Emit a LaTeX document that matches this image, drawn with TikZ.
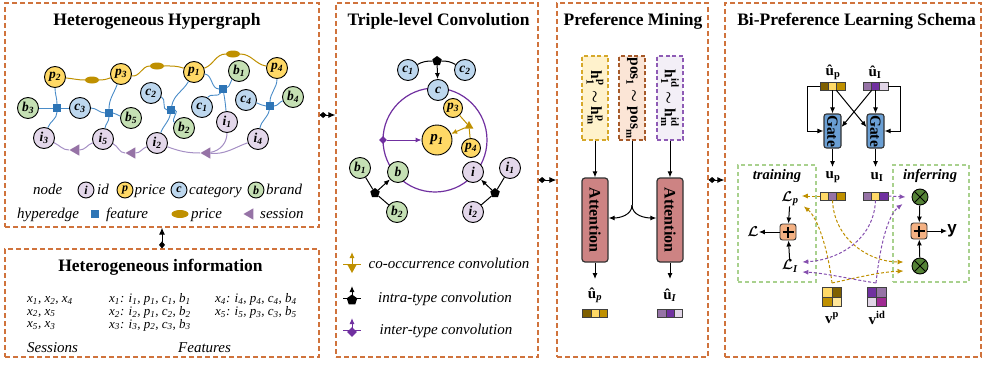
\documentclass[tikz,border=0pt]{standalone}
\usepackage{amsmath,bm}
\usepackage{fontspec}
\setmainfont{Liberation Serif}
\newfontfamily\sansfam{Liberation Sans}
\usepackage{graphicx}
\usetikzlibrary{shapes.geometric,arrows.meta,calc}

\definecolor{panelc}{HTML}{D0733C}
\definecolor{idc}{HTML}{E3D7EA}
\definecolor{prc}{HTML}{FFD966}
\definecolor{ctc}{HTML}{BDD7EE}
\definecolor{brc}{HTML}{C5E0B4}
\definecolor{featc}{HTML}{2E75B6}
\definecolor{featl}{HTML}{4A8CC8}
\definecolor{pricec}{HTML}{BF9000}
\definecolor{sessc}{HTML}{9673A6}
\definecolor{sessl}{HTML}{A58FC4}
\definecolor{purc}{HTML}{7030A0}
\definecolor{goldc}{HTML}{BF9000}
\definecolor{vdark}{HTML}{7F6000}
\definecolor{vyel}{HTML}{FFD966}
\definecolor{vlyel}{HTML}{FFE699}
\definecolor{vpm}{HTML}{9673A6}
\definecolor{vlav}{HTML}{E1D5E7}
\definecolor{vmag}{HTML}{A02B93}
\definecolor{hpfill}{HTML}{FFF2CC}
\definecolor{hpdraw}{HTML}{D6A82A}
\definecolor{posfill}{HTML}{FBE5D6}
\definecolor{posdraw}{HTML}{A65A2A}
\definecolor{hidfill}{HTML}{F3EFF7}
\definecolor{hiddraw}{HTML}{8E5BB5}
\definecolor{attc}{HTML}{CD8383}
\definecolor{gatec}{HTML}{6A9FD4}
\definecolor{plusc}{HTML}{F4B183}
\definecolor{otc}{HTML}{548235}
\definecolor{grnbox}{HTML}{A9D18E}

\newcommand{\vs}[2]{#1\textsubscript{#2}}
\newcommand{\lines}[1]{\begin{tabular}[t]{@{}l@{}}#1\end{tabular}}

\tikzset{
  panel/.style={rectangle, draw=panelc, line width=1.2pt, dash pattern=on 5pt off 3pt, inner sep=0pt},
  ttl/.style={font=\fontsize{17.5}{20}\selectfont\bfseries, inner sep=0pt, anchor=base},
  hn/.style={circle, draw=black, line width=0.9pt, minimum size=21pt, inner sep=0pt,
             font=\fontsize{13.5}{14}\selectfont\bfseries\itshape},
  idn/.style={hn, fill=idc}, prn/.style={hn, fill=prc},
  ctn/.style={hn, fill=ctc}, brn/.style={hn, fill=brc},
  lgn/.style={minimum size=16pt, font=\fontsize{12}{12}\selectfont\bfseries\itshape},
  fsq/.style={rectangle, fill=featc, minimum size=7.5pt, inner sep=0pt},
  pel/.style={ellipse, fill=pricec, minimum width=14pt, minimum height=7pt, inner sep=0pt},
  stri/.style={regular polygon, regular polygon sides=3, shape border rotate=90, fill=sessc,
               minimum size=13pt, inner sep=0pt},
  fline/.style={draw=featl, line width=0.9pt},
  pline/.style={draw=pricec, line width=1pt},
  sline/.style={draw=sessl, line width=1pt},
  lgt/.style={font=\fontsize{15}{16}\selectfont\itshape, inner sep=0pt, anchor=base west},
  itx/.style={font=\fontsize{13}{12.5}\selectfont\itshape, inner sep=0pt, anchor=base west},
  pconn/.style={line width=1pt, {Diamond[length=7pt,width=6pt]}-{Latex[length=7pt,width=6pt]}},
  arr/.style={line width=1pt, -{Latex[length=6pt,width=5pt]}},
  bl/.style={line width=1pt},
  hexj/.style={regular polygon, regular polygon sides=5, fill=black, minimum size=10pt, inner sep=0pt},
  purj/.style={diamond, fill=purc, minimum size=8pt, inner sep=0pt},
  goldj/.style={regular polygon, regular polygon sides=3, fill=goldc, minimum size=10pt, inner sep=0pt},
  hbox/.style={rectangle, line width=1.1pt, dash pattern=on 4pt off 2.5pt, minimum width=26pt,
               minimum height=84pt, inner sep=0pt, font=\fontsize{15.5}{16}\selectfont\bfseries},
  att/.style={rectangle, rounded corners=3pt, fill=attc, draw=black!80, line width=1.2pt,
              minimum width=26pt, minimum height=84pt, inner sep=0pt, font=\fontsize{16}{16}\selectfont\bfseries},
  gate/.style={rectangle, rounded corners=2.5pt, fill=gatec, draw=black!80, line width=1.1pt,
               minimum width=17pt, minimum height=34pt, inner sep=0pt, font=\fontsize{15.5}{16}\selectfont\bfseries},
  cell/.style={rectangle, draw=black!75, line width=0.6pt, minimum width=8.33pt, minimum height=8pt, inner sep=0pt},
  sqc/.style={rectangle, draw=black!75, line width=0.6pt, minimum size=9.5pt, inner sep=0pt},
  vl/.style={font=\fontsize{15}{16}\selectfont, inner sep=0pt},
  gbox/.style={rectangle, draw=grnbox, line width=1.1pt, dash pattern=on 4pt off 3pt, inner sep=0pt},
  plusn/.style={rectangle, rounded corners=2.5pt, fill=plusc, draw=black!80, line width=0.9pt,
                minimum size=16pt, inner sep=0pt},
  otn/.style={circle, fill=otc, draw=black, line width=0.9pt, minimum size=16pt, inner sep=0pt},
  gda/.style={draw=goldc, line width=1pt, dash pattern=on 3pt off 2pt, -{Latex[length=6pt,width=5pt]}},
  pda/.style={draw=purc!85, line width=1pt, dash pattern=on 3pt off 2pt, -{Latex[length=6pt,width=5pt]}},
}

\begin{document}
\begin{tikzpicture}[x=1pt,y=1pt]
\useasboundingbox (0,0) rectangle (984,-364);

% ---------- panels ----------
\node[panel, minimum width=314pt, minimum height=224pt] (hg) at (162,-115) {};
\node[panel, minimum width=314pt, minimum height=108pt] (inf) at (162,-303) {};
\node[panel, minimum width=202pt, minimum height=354pt] (tl) at (437,-180) {};
\node[panel, minimum width=151pt, minimum height=354pt] (pm) at (632.5,-180) {};
\node[panel, minimum width=256pt, minimum height=354pt] (bp) at (853,-180) {};

\coordinate (ya) at (0,-115);
\coordinate (yb) at (0,-180);
\draw[pconn] (hg.east |- ya) -- (tl.west |- ya);
\draw[pconn] (tl.east |- yb) -- (pm.west |- yb);
\draw[pconn] (pm.east |- yb) -- (bp.west |- yb);
\draw[pconn] (inf.north) -- (hg.south);

% ---------- heterogeneous hypergraph ----------
\node[ttl] (t1) at (157,-25) {Heterogeneous Hypergraph};

\node[prn] (p2) at (55,-77) {\vs{p}{2}};
\node[prn] (p3) at (121,-74) {\vs{p}{3}};
\node[prn] (p1) at (194,-72) {\vs{p}{1}};
\node[prn] (p4) at (277,-68) {\vs{p}{4}};
\node[brn] (b3) at (28,-108) {\vs{b}{3}};
\node[ctn] (c3) at (80,-108) {\vs{c}{3}};
\node[brn] (b5) at (131,-118) {\vs{b}{5}};
\node[ctn] (c2) at (151,-93) {\vs{c}{2}};
\node[brn] (b2) at (184,-128) {\vs{b}{2}};
\node[ctn] (c1) at (202,-107) {\vs{c}{1}};
\node[brn] (b1) at (239,-71) {\vs{b}{1}};
\node[ctn] (c4) at (246,-100) {\vs{c}{4}};
\node[brn] (b4) at (293,-97) {\vs{b}{4}};
\node[idn] (i3) at (44,-138) {\vs{i}{3}};
\node[idn] (i5) at (103,-139) {\vs{i}{5}};
\node[idn] (i2) at (157,-143) {\vs{i}{2}};
\node[idn] (i1) at (227,-122) {\vs{i}{1}};
\node[idn] (i4) at (258,-139) {\vs{i}{4}};

\node[pel] (e1) at (92,-80) {};
\node[pel] (e2) at (157,-66) {};
\node[pel] (e3) at (233,-54) {};
\node[fsq] (s1) at (57,-108) {};
\node[fsq] (s2) at (109,-113) {};
\node[fsq] (s3) at (171,-110) {};
\node[fsq] (s4) at (223,-89) {};
\node[fsq] (s5) at (270,-106) {};
\node[stri] (tr1) at (76,-150) {};
\node[stri] (tr2) at (132,-153) {};
\node[stri] (tr3) at (207,-153) {};

% price hyperedges
\draw[pline] (p2) to[out=-5,in=180] (e1);
\draw[pline] (e1) to[out=0,in=200] (p3);
\draw[pline] (p3) to[out=-10,in=180] (e2);
\draw[pline] (e2) to[out=0,in=160] (p1);
\draw[pline] (p1) to[out=20,in=180] (e3);
\draw[pline] (e3) to[out=0,in=170] (p4);

% feature hyperedges
\draw[fline] (b3) -- (s1);
\draw[fline] (s1) -- (c3);
\draw[fline] (s1) to[out=90,in=270] (p2);
\draw[fline] (s1) to[out=270,in=70] (i3);
\draw[fline] (c3) to[out=0,in=180] (s2);
\draw[fline] (s2) to[out=0,in=170] (b5);
\draw[fline] (s2) to[out=90,in=250] (p3);
\draw[fline] (s2) to[out=270,in=80] (i5);
\draw[fline] (c2) to[out=-20,in=180] (s3);
\draw[fline] (s3) to[out=0,in=150] (b2);
\draw[fline] (s3) to[out=80,in=240] (p1);
\draw[fline] (s3) to[out=260,in=70] (i2);
\draw[fline] (p1) to[out=-10,in=180] (s4);
\draw[fline] (s4) to[out=20,in=230] (b1);
\draw[fline] (s4) to[out=240,in=60] (c1);
\draw[fline] (s4) to[out=280,in=95] (i1);
\draw[fline] (c4) to[out=-15,in=180] (s5);
\draw[fline] (s5) to[out=0,in=200] (b4);
\draw[fline] (s5) to[out=90,in=270] (p4);
\draw[fline] (s5) to[out=260,in=80] (i4);

% session hyperedges
\draw[sline] (i3) to[out=-25,in=180] (tr1);
\draw[sline] (tr1) to[out=0,in=200] (i5);
\draw[sline] (i5) to[out=-25,in=180] (tr2);
\draw[sline] (tr2) to[out=0,in=200] (i2);
\draw[sline] (i2) to[out=-20,in=180] (tr3);
\draw[sline] (tr3) to[out=10,in=270] (i1);
\draw[sline] (tr3) to[out=-5,in=200] (i4);

% legend
\node[lgt] (lnode) at (33,-194) {node};
\node[idn, lgn] (li) at (86,-190) {i};
\node[lgt] (lid) at (97,-194) {id};
\node[prn, lgn] (lp) at (125,-190) {p};
\node[lgt] (lpr) at (134.5,-194) {price};
\node[ctn, lgn] (lc) at (179,-190) {c};
\node[lgt] (lct) at (189,-194) {category};
\node[brn, lgn] (lb) at (256,-190) {b};
\node[lgt] (lbr) at (266,-194) {brand};
\node[lgt] (lhe) at (17,-218) {hyperedge};
\node[fsq, minimum size=8.5pt] (lsq) at (95,-214) {};
\node[lgt] (lft) at (106,-218) {feature};
\node[pel, minimum width=17pt, minimum height=8pt] (lel) at (180,-214) {};
\node[lgt] (lpe) at (191,-218) {price};
\node[stri] (ltr) at (250,-214) {};
\node[lgt] (lse) at (260,-218) {session};

% ---------- heterogeneous information ----------
\node[ttl] (t2) at (160.5,-271) {Heterogeneous information};
\node[itx] (sess) at (27,-302.5)
  {\lines{\vs{x}{1}, \vs{x}{2}, \vs{x}{4}\\ \vs{x}{2}, \vs{x}{5}\\ \vs{x}{5}, \vs{x}{3}}};
\node[itx] (feat1) at (109,-302.5)
  {\lines{\vs{x}{1}: \vs{i}{1}, \vs{p}{1}, \vs{c}{1}, \vs{b}{1}\\
          \vs{x}{2}: \vs{i}{2}, \vs{p}{1}, \vs{c}{2}, \vs{b}{2}\\
          \vs{x}{3}: \vs{i}{3}, \vs{p}{2}, \vs{c}{3}, \vs{b}{3}}};
\node[itx] (feat2) at (215,-302.5)
  {\lines{\vs{x}{4}: \vs{i}{4}, \vs{p}{4}, \vs{c}{4}, \vs{b}{4}\\
          \vs{x}{5}: \vs{i}{5}, \vs{p}{3}, \vs{c}{3}, \vs{b}{5}}};
\node[lgt] (ses) at (27,-352) {Sessions};
\node[lgt] (fea) at (178,-352) {Features};

% ---------- triple-level convolution ----------
\node[ttl] (t3) at (438.5,-25) {Triple-level Convolution};
\draw[purc, line width=1.2pt] (435,-140) circle (52);

\node[ctn] (tc1) at (408,-70) {\vs{c}{1}};
\node[ctn] (tc2) at (465,-70) {\vs{c}{2}};
\node[hexj] (hx1) at (437,-61) {};
\node[ctn] (tc) at (438,-90) {c};
\draw[bl] (tc1) to[out=30,in=180] (hx1);
\draw[bl] (hx1) to[out=0,in=150] (tc2);
\draw[arr] (hx1) -- (tc);

\node[prn, minimum size=30pt, font=\fontsize{15}{16}\selectfont\bfseries\itshape] (tp1) at (437,-140) {\vs{p}{1}};
\node[prn, minimum size=19pt] (tp3) at (453,-108) {\vs{p}{3}};
\node[prn, minimum size=19pt] (tp4) at (471,-148) {\vs{p}{4}};
\node[goldj] (gj) at (469,-126) {};
\draw[goldc, line width=1pt] (tp3) -- (gj);
\draw[goldc, line width=1pt] (gj) -- (tp4);
\draw[goldc, arr] (gj) -- (tp1);

\node[purj] (pj) at (383,-140) {};
\draw[purc, arr] (pj) -- (tp1);

\node[brn] (tb1) at (360,-168) {\vs{b}{1}};
\node[brn] (tb) at (398,-172) {b};
\node[hexj] (hx2) at (375,-193) {};
\node[brn] (tb2) at (397,-212) {\vs{b}{2}};
\draw[bl] (tb1) -- (hx2);
\draw[bl] (hx2) -- (tb2);
\draw[arr] (hx2) -- (tb);

\node[idn] (ti) at (473,-172) {i};
\node[idn] (ti1) at (510,-168) {\vs{i}{1}};
\node[hexj] (hx3) at (495,-193) {};
\node[idn] (ti2) at (473,-212) {\vs{i}{2}};
\draw[bl] (ti1) -- (hx3);
\draw[bl] (hx3) -- (ti2);
\draw[arr] (hx3) -- (ti);

% convolution legend
\draw[goldc, line width=1pt] (343,-264) -- (361,-264);
\draw[goldc, arr] (352,-264) -- (352,-252);
\fill[goldc] (347,-264) -- (357,-264) -- (352,-273) -- cycle;
\node[lgt, anchor=base] (lg1) at (449,-268) {co-occurrence convolution};

\draw[black, line width=1pt] (343,-298) -- (361,-298);
\draw[arr] (352,-298) -- (352,-286);
\node[hexj, minimum size=11pt] (lgh) at (352,-300) {};
\node[lgt, anchor=base] (lg2) at (445,-302) {intra-type convolution};

\draw[purc, line width=1pt] (343,-330) -- (361,-330);
\draw[purc, arr] (352,-330) -- (352,-318);
\node[purj, minimum size=10pt] (lgd) at (352,-332) {};
\node[lgt, anchor=base] (lg3) at (446,-334) {inter-type convolution};

% ---------- preference mining ----------
\node[ttl] (t4) at (633,-25) {Preference Mining};
\node[hbox, draw=hpdraw, fill=hpfill] (hp) at (595,-98)
  {\rotatebox{-90}{$\textbf{h}^{\textbf{p}}_{\textbf{1}}\boldsymbol{\sim}\textbf{h}^{\textbf{p}}_{\textbf{m}}$}};
\node[hbox, draw=posdraw, fill=posfill] (pos) at (632,-98)
  {\rotatebox{-90}{$\textbf{pos}_{\textbf{1}}\boldsymbol{\sim}\textbf{pos}_{\textbf{m}}$}};
\node[hbox, draw=hiddraw, fill=hidfill] (hid) at (670,-98)
  {\rotatebox{-90}{$\textbf{h}^{\textbf{id}}_{\textbf{1}}\boldsymbol{\sim}\textbf{h}^{\textbf{id}}_{\textbf{m}}$}};
\node[att] (a1) at (595,-220) {\rotatebox{-90}{Attention}};
\node[att] (a2) at (670,-220) {\rotatebox{-90}{Attention}};
\draw[arr] (hp) -- (a1);
\draw[arr] (hid) -- (a2);
\coordinate (split) at (632,-205);
\draw[line width=1pt] (pos) -- (split);
\draw[arr] (split) to[out=270,in=0] ($(a1.east)+(0,2)$);
\draw[arr] (split) to[out=270,in=180] ($(a2.west)+(0,2)$);
\coordinate (a1o) at (595,-279);
\coordinate (a2o) at (670,-279);
\draw[arr] (a1) -- (a1o);
\draw[arr] (a2) -- (a2o);
\node[vl] (lup) at (595,-295) {$\textbf{û}_{\textbf{\textit{p}}}$};
\node[vl] (lui) at (670,-295) {$\textbf{û}_{\textbf{\textit{I}}}$};
\node[cell, fill=vdark] (mpa) at (586.7,-313) {};
\node[cell, fill=vyel] (mpb) at (595,-313) {};
\node[cell, fill=goldc] (mpc) at (603.3,-313) {};
\node[cell, fill=vpm] (mia) at (661.7,-313) {};
\node[cell, fill=purc] (mib) at (670,-313) {};
\node[cell, fill=vlav] (mic) at (678.3,-313) {};

% ---------- bi-preference learning schema ----------
\node[ttl] (t5) at (856.5,-25) {Bi-Preference Learning Schema};
\node[vl] (bup) at (833,-72) {$\textbf{û}_{\textbf{p}}$};
\node[vl] (bui) at (875,-72) {$\textbf{û}_{\textbf{I}}$};
\node[cell, fill=vdark] (upa) at (824.2,-86) {};
\node[cell, fill=vyel] (upb) at (832.5,-86) {};
\node[cell, fill=goldc] (upc) at (840.8,-86) {};
\node[cell, fill=vpm] (uia) at (867.2,-86) {};
\node[cell, fill=purc] (uib) at (875.5,-86) {};
\node[cell, fill=vlav] (uic) at (883.8,-86) {};

\node[gate] (g1) at (832.5,-131) {\rotatebox{-90}{Gate}};
\node[gate] (g2) at (875.5,-131) {\rotatebox{-90}{Gate}};
\draw[arr] (upb) -- (g1);
\draw[arr] (uib) -- (g2);
\draw[arr] (upc.south west) -- ($(g2.west)+(0,4)$);
\draw[arr] (uia.south east) -- ($(g1.east)+(0,4)$);
\draw[arr] (upa.west) -- ++(-12,0) |- (g1.west);
\draw[arr] (uic.east) -- ++(12,0) |- (g2.east);
\coordinate (g1o) at (832.5,-167);
\coordinate (g2o) at (875.5,-167);
\draw[arr] (g1) -- (g1o);
\draw[arr] (g2) -- (g2o);

\node[vl] (bu1) at (833,-177) {$\textbf{u}_{\textbf{p}}$};
\node[vl] (bu2) at (877,-177) {$\textbf{u}_{\textbf{I}}$};
\node[cell, fill=vyel] (vpa) at (824.2,-196) {};
\node[cell, fill=vpm] (vpb) at (832.5,-196) {};
\node[cell, fill=goldc] (vpc) at (840.8,-196) {};
\node[cell, fill=vpm] (via) at (867.2,-196) {};
\node[cell, fill=vyel] (vib) at (875.5,-196) {};
\node[cell, fill=purc] (vic) at (883.8,-196) {};

\node[gbox, minimum width=78pt, minimum height=117pt] (trn) at (777,-223.5) {};
\node[gbox, minimum width=76pt, minimum height=117pt] (inr) at (931,-223.5) {};
\node[font=\fontsize{14.5}{15}\selectfont\bfseries\itshape, inner sep=0pt] (ltr2) at (777,-176) {training};
\node[font=\fontsize{14.5}{15}\selectfont\bfseries\itshape, inner sep=0pt] (lin) at (930,-176) {inferring};

\node[vl] (llp) at (790,-199) {$\bm{\mathcal{L}}_{\textbf{\textit{p}}}$};
\node[plusn] (pl1) at (788,-232) {};
\node[vl] (ll) at (753,-232) {$\bm{\mathcal{L}}$};
\node[vl] (lli) at (790,-266) {$\bm{\mathcal{L}}_{\textbf{\textit{I}}}$};
\draw[line width=2pt] ($(pl1.center)+(-5.5,0)$) -- ($(pl1.center)+(5.5,0)$);
\draw[line width=2pt] ($(pl1.center)+(0,-5.5)$) -- ($(pl1.center)+(0,5.5)$);
\draw[arr] (llp) -- (pl1);
\draw[arr] (lli) -- (pl1);
\draw[arr] (pl1) -- (ll);

\node[otn] (ot1) at (920,-197) {};
\node[plusn] (pl2) at (919,-231) {};
\node[otn] (ot2) at (920,-266) {};
\node[font=\fontsize{17}{17}\selectfont\sansfam\bfseries, inner sep=0pt] (yy) at (952,-231) {y};
\foreach \o in {ot1,ot2}{
  \draw[line width=0.9pt] (\o.45) -- (\o.225);
  \draw[line width=0.9pt] (\o.135) -- (\o.315);
}
\draw[line width=2pt] ($(pl2.center)+(-5.5,0)$) -- ($(pl2.center)+(5.5,0)$);
\draw[line width=2pt] ($(pl2.center)+(0,-5.5)$) -- ($(pl2.center)+(0,5.5)$);
\draw[arr] (ot1) -- (pl2);
\draw[arr] (ot2) -- (pl2);
\draw[arr] (pl2) -- (yy);

% item embedding tables
\node[sqc, fill=vyel] (vp1) at (827.3,-292.3) {};
\node[sqc, fill=vdark] (vp2) at (836.8,-292.3) {};
\node[sqc, fill=goldc] (vp3) at (827.3,-301.8) {};
\node[sqc, fill=vlyel] (vp4) at (836.8,-301.8) {};
\node[sqc, fill=purc] (vd1) at (871.8,-292.3) {};
\node[sqc, fill=vpm] (vd2) at (881.3,-292.3) {};
\node[sqc, fill=vlav] (vd3) at (871.8,-301.8) {};
\node[sqc, fill=vmag] (vd4) at (881.3,-301.8) {};
\node[vl] (lvp) at (832,-318) {$\textbf{v}^{\textbf{p}}$};
\node[vl] (lvd) at (877,-318) {$\textbf{v}^{\textbf{id}}$};
\coordinate (vpt) at (832,-283);
\coordinate (vdt) at (876,-283);

% dashed score flows
\draw[gda] (vpa.west) -- ($(llp.east)+(3,3)$);
\draw[gda] (vpb.south) .. controls (834,-240) and (870,-262) .. ($(ot2.west)+(-8,4)$);
\draw[gda] (vpt) .. controls (828,-250) and (818,-218) .. ($(llp.south east)+(5,0)$);
\draw[gda] (vpt) .. controls (855,-278) and (880,-272) .. ($(ot2.west)+(-8,-5)$);
\draw[pda] (vic.east) -- ($(ot1.west)+(-6,0)$);
\draw[pda] (vib.south) .. controls (874,-240) and (838,-260) .. ($(lli.east)+(4,4)$);
\draw[pda] (vdt) .. controls (880,-245) and (888,-215) .. ($(ot1.west)+(-9,-7)$);
\draw[pda] (vdt) .. controls (850,-279) and (825,-273) .. ($(lli.east)+(4,-6)$);
\end{tikzpicture}
\end{document}
